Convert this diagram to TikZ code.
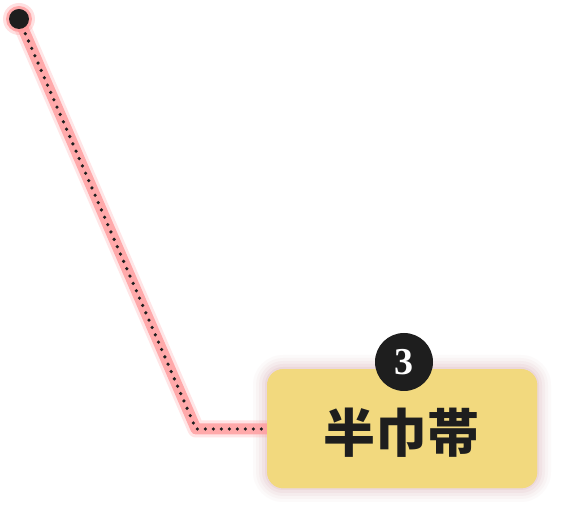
\documentclass[tikz,border=0pt]{standalone}
\usepackage{fontspec}
\newfontfamily\cjk{Noto Sans CJK JP}
\setmainfont{Liberation Serif}
\definecolor{glowpink}{HTML}{FF9A9C}
\definecolor{boxfill}{HTML}{F2D97E}
\definecolor{boxglow}{HTML}{C98A96}
\definecolor{ink}{HTML}{1E1E1E}
\tikzset{
  glowline/.style={draw=glowpink, line width=#1, line join=round, line cap=round},
  dotline/.style={draw=ink, line width=3.6pt, line cap=round, dash pattern=on 0pt off 8pt},
  labelbox/.style={fill=boxfill, rounded corners=16pt, minimum width=270pt, minimum height=119pt, inner sep=0pt},
  badge/.style={circle, fill=ink, minimum size=58pt, inner sep=0pt, text=white, font=\bfseries\fontsize{38}{38}\selectfont},
}
\begin{document}
\begin{tikzpicture}[x=1pt,y=-1pt]
\useasboundingbox (0,0) rectangle (566,518);
\fill[white] (0,0) rectangle (566,518);
% box glow
\foreach \g/\o in {14/0.04,11/0.05,8/0.07,5/0.09,2/0.12}{
  \fill[boxglow, opacity=\o, rounded corners=16pt+\g pt] (267-\g,369-\g) rectangle (537+\g,488+\g);
}
\coordinate (start) at (19,19);
\coordinate (bend) at (196,429);
\node[labelbox, anchor=north west] (box) at (267,369) {};
\coordinate (end) at (box.west |- bend);
% line glow
\draw[glowline=17pt, opacity=0.25] (start) -- (bend) -- (end);
\draw[glowline=11pt, opacity=0.8] (start) -- (bend) -- (end);
\fill[glowpink, opacity=0.3] (start) circle (16);
\fill[glowpink, opacity=0.8] (start) circle (13);
\draw[dotline] (start) -- (bend) -- (end);
\node[circle, fill=ink, minimum size=20pt, inner sep=0pt] (dot) at (start) {};
\node[labelbox, anchor=north west] (box2) at (267,369) {};
\node[font=\cjk\bfseries\fontsize{52}{52}\selectfont, text=ink] (txt) at (401,433) {半巾帯};
\node[badge] (num) at (404,362) {3};
\end{tikzpicture}
\end{document}
